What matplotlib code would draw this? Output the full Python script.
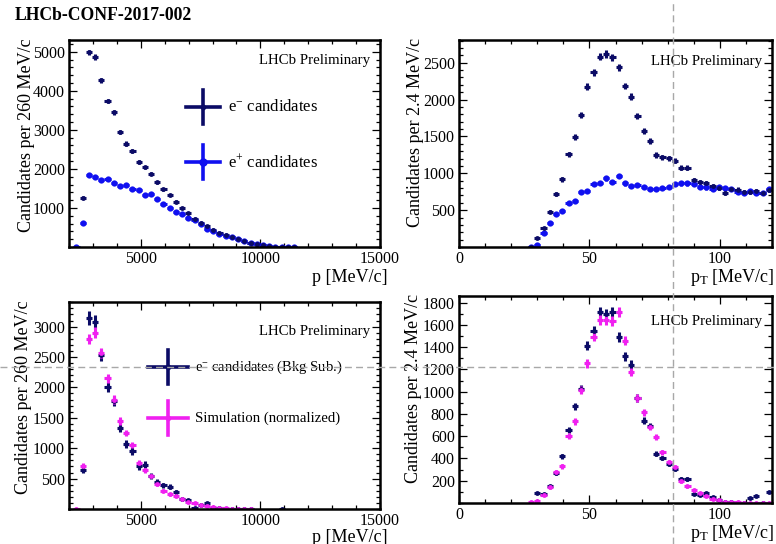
import numpy as np
import matplotlib
matplotlib.use("Agg")
import matplotlib.pyplot as plt
from matplotlib.lines import Line2D
from matplotlib.ticker import MultipleLocator

plt.rcParams['font.family'] = ['Liberation Serif', 'DejaVu Serif']
plt.rcParams['mathtext.fontset'] = 'custom'
plt.rcParams['mathtext.rm'] = 'Liberation Serif'
plt.rcParams['mathtext.it'] = 'Liberation Serif:italic'

W, H = 776, 544

# momentum binning: 260 MeV/c, transverse momentum binning: 2.4 MeV/c
p_edges = np.arange(2180, 11541, 260)
p_centres = p_edges[:-1] + 130
pt_edges = np.arange(26.4, 120.01, 2.4)
pt_centres = pt_edges[:-1] + 1.2

# top left: p spectrum of e- and e+ candidates
em_p = [np.nan, 1260, 4980, 4860, 4270, 3740, 3450, 2940, 2650, 2460, 2170, 2040,
        1880, 1660, 1480, 1330, 1160, 1000, 870, 720, 610, 530, 430, 360, 300, 250,
        200, 150, 110, 75, 45, 20, 8, 3, 1, 0]
ep_p = [0, 620, 1840, 1780, 1710, 1730, 1650, 1570, 1590, 1490, 1460, 1330,
        1360, 1240, 1100, 1000, 900, 845, 745, 700, 590, 470, 400, 340, 290, 245,
        200, 150, 110, 70, 40, 15, 5, 2, 1, 0]

# top right: pT spectrum of e- and e+ candidates
em_pt = [0, 116, 260, 477, 713, 917, 1256, 1495, 1790, 2174, 2370, 2582, 2618,
         2573, 2438, 2184, 2039, 1776, 1577, 1441, 1247, 1216, 1203, 1170, 1075,
         1075, 907, 884, 870, 830, 800, 727, 790, 780, 750, 740, 760, 730, 780]
ep_pt = [0, 25, 184, 319, 441, 491, 600, 622, 749, 762, 853, 871, 930, 884, 962,
         862, 830, 839, 816, 781, 781, 795, 816, 853, 862, 862, 853, 816, 808, 781,
         808, 795, 781, 749, 735, 762, 727, 727, 781]

# bottom left: background subtracted e- vs simulation, p
em_bs_p = [np.nan, 640, 3140, 3080, 2530, 2010, 1780, 1340, 1070, 950, 700, 730,
           540, 445, 390, 370, 280, 160, 145, 10, 60, 95, 20, 10, 5, 3, 0, 0, 0,
           np.nan, np.nan, np.nan, np.nan, 0, np.nan, np.nan]
sim_p = [0, 710, 2800, 2900, 2560, 2150, 1800, 1450, 1250, 1050, 760, 640, 540,
         410, 300, 245, 215, 165, 120, 100, 70, 45, 25, 15, 10, 5, 3, 2, 1,
         np.nan, np.nan, np.nan, np.nan, np.nan, np.nan, np.nan]

# bottom right: background subtracted e- vs simulation, pT
em_bs_pt = [np.nan, 90, 83, 152, 270, 418, 658, 870, 1025, 1414, 1549, 1714, 1699,
            1714, 1490, 1319, 1244, 945, 741, 691, 442, 404, 353, 308, 218, 218, 83,
            68, 90, 54, 23, 10, 5, 0, 0, 47, 61, 0, 100]
sim_pt = [5, 15, 68, 143, 278, 328, 598, 735, 1017, 1256, 1495, 1645, 1645, 1638,
          1714, 1459, 1175, 945, 817, 682, 592, 457, 368, 323, 194, 149, 113, 92,
          59, 38, 23, 12, 10, 5, 4, 3, 2, 2, 2]

NAVY = '#0b0b66'
BLUE = '#1010f0'
MAGENTA = '#f020f0'

fig = plt.figure(figsize=(W / 100, H / 100), dpi=100)


def box(l, t, r, b):
    return [l / W, 1 - b / H, (r - l) / W, (b - t) / H]


def frame(rect, xlim, ylim, xmaj, xmin, yticks, ymin):
    ax = fig.add_axes(rect)
    ax.set_xlim(xlim)
    ax.set_ylim(ylim)
    ax.xaxis.set_major_locator(MultipleLocator(xmaj))
    ax.xaxis.set_minor_locator(MultipleLocator(xmin))
    ax.set_yticks(yticks)
    ax.yaxis.set_minor_locator(MultipleLocator(ymin))
    ax.tick_params(which='both', direction='in', top=True, right=True,
                   labelsize=11.5, width=0.9, pad=3)
    ax.tick_params(which='major', length=6)
    ax.tick_params(which='minor', length=3)
    for s in ax.spines.values():
        s.set_linewidth(1.8)
    return ax


def points(ax, x, y, half, k, color, ms):
    y = np.asarray(y, dtype=float)
    err = k * np.sqrt(np.nan_to_num(y))
    ax.errorbar(x, y, xerr=half, yerr=err, fmt='o', ms=ms, color=color,
                mec=color, mew=0, elinewidth=2.2, capsize=0)


def legend_cross(xc, yc, hw, hh, color, ms):
    kw = dict(color=color, lw=2.6)
    fig.add_artist(Line2D([(xc - hw) / W, (xc + hw) / W], [1 - yc / H] * 2, **kw))
    fig.add_artist(Line2D([xc / W] * 2, [1 - (yc - hh) / H, 1 - (yc + hh) / H], **kw))
    fig.add_artist(Line2D([xc / W], [1 - yc / H], marker='o', ms=ms, color=color, lw=0))


def ftext(x, y, s, **kw):
    fig.text(x / W, 1 - y / H, s, **kw)


fig.text(15 / W, 1 - 16 / H, 'LHCb-CONF-2017-002', fontsize=12.7,
         fontweight='bold', va='center')

# top left
ax1 = frame(box(69, 40, 380, 247), (2000, 15000), (0, 5300), 5000, 1000,
            [1000, 2000, 3000, 4000, 5000], 200)
points(ax1, p_centres, ep_p, 130, 1.0, BLUE, 4.5)
points(ax1, p_centres, em_p, 130, 1.0, NAVY, 3.5)
ax1.text(0.968, 0.903, 'LHCb Preliminary', transform=ax1.transAxes,
         ha='right', va='center', fontsize=10.7)
legend_cross(203, 107, 17, 17, NAVY, 3)
legend_cross(203, 162, 17, 17, BLUE, 5)
ftext(228, 107, 'e$^{-}$ candidates', fontsize=12, va='center')
ftext(228, 162, 'e$^{+}$ candidates', fontsize=12, va='center')
ftext(27, 38, 'Candidates per 260 MeV/c', rotation=90, ha='center', va='top', fontsize=13)
ftext(388, 277, 'p [MeV/c]', ha='right', va='center', fontsize=13)

# top right
ax2 = frame(box(459, 40, 772, 247), (0, 120), (0, 2808), 50, 10,
            [500, 1000, 1500, 2000, 2500], 100)
points(ax2, pt_centres, ep_pt, 1.2, 1.0, BLUE, 4.5)
points(ax2, pt_centres, em_pt, 1.2, 1.0, NAVY, 3.5)
ax2.text(0.968, 0.898, 'LHCb Preliminary', transform=ax2.transAxes,
         ha='right', va='center', fontsize=10.7)
ftext(415, 38, 'Candidates per 2.4 MeV/c', rotation=90, ha='center', va='top', fontsize=13)
ftext(774, 278, 'p$_{\\rm T}$ [MeV/c]', ha='right', va='center', fontsize=13)

# bottom left
ax3 = frame(box(69, 302, 380, 509), (2000, 15000), (0, 3405), 5000, 1000,
            [500, 1000, 1500, 2000, 2500, 3000], 100)
points(ax3, p_centres, em_bs_p, 130, 2.0, NAVY, 3.5)
points(ax3, p_centres, sim_p, 130, 1.6, MAGENTA, 3.5)
ax3.text(0.968, 0.857, 'LHCb Preliminary', transform=ax3.transAxes,
         ha='right', va='center', fontsize=10.7)
legend_cross(168, 367, 20, 17, NAVY, 3)
legend_cross(168, 418, 20, 17, MAGENTA, 3)
ftext(195, 367, 'e$^{-}$ candidates (Bkg Sub.)', fontsize=10.5, va='center')
ftext(195, 418, 'Simulation (normalized)', fontsize=10.6, va='center')
ftext(24, 300, 'Candidates per 260 MeV/c', rotation=90, ha='center', va='top', fontsize=13)
ftext(388, 537, 'p [MeV/c]', ha='right', va='center', fontsize=13)

# bottom right
ax4 = frame(box(459, 296, 772, 503), (0, 120), (0, 1860), 50, 10,
            [200, 400, 600, 800, 1000, 1200, 1400, 1600, 1800], 100)
points(ax4, pt_centres, em_bs_pt, 1.2, 1.1, NAVY, 3.5)
points(ax4, pt_centres, sim_pt, 1.2, 1.1, MAGENTA, 3.5)
ax4.text(0.968, 0.876, 'LHCb Preliminary', transform=ax4.transAxes,
         ha='right', va='center', fontsize=10.7)
ftext(413, 294, 'Candidates per 2.4 MeV/c', rotation=90, ha='center', va='top', fontsize=13)
ftext(774, 533, 'p$_{\\rm T}$ [MeV/c]', ha='right', va='center', fontsize=13)

# dashed cross-hair lines that run across the page
dash = dict(color='#a8a8a8', lw=1.0, ls=(0, (5, 3)), zorder=10)
fig.add_artist(Line2D([673 / W] * 2, [0, 1], **dash))
fig.add_artist(Line2D([0, 1], [1 - 367 / H] * 2, **dash))

fig.savefig('out.png', dpi=100)
